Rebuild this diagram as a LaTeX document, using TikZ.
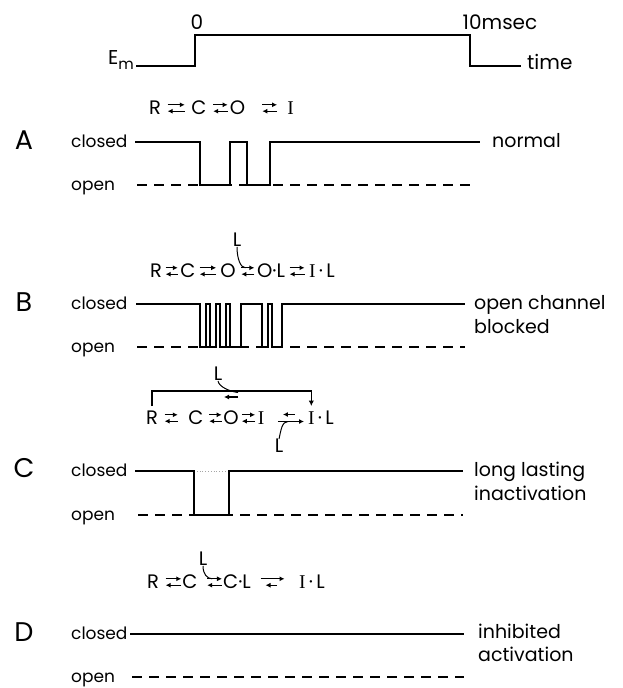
\documentclass[tikz,border=0pt]{standalone}
\usepackage{fontspec}
\setmainfont{Poppins}
\newfontfamily\serifI{Liberation Serif}
\usetikzlibrary{arrows.meta}
\newcommand{\Ig}{{\serifI I}}
\newcommand{\eqarr}[4]{%
  \draw[eqa, shorten <=#3, shorten >=#4] ([yshift=3.2pt]#1.east) -- ([yshift=3.2pt]#2.west);
  \draw[eqa, shorten <=#4, shorten >=#3] ([yshift=-3.2pt]#2.west) -- ([yshift=-3.2pt]#1.east);}
\begin{document}
\begin{tikzpicture}[x=1pt,y=-1pt,
  trace/.style={line width=1.4pt, line join=miter},
  burst/.style={line width=1.1pt, line join=miter},
  openline/.style={line width=1.3pt, dash pattern=on 10pt off 7pt},
  sp/.style={font=\fontsize{19.5}{19.5}\selectfont, inner sep=0pt},
  tl/.style={font=\fontsize{20}{20}\selectfont, inner sep=0pt},
  lbl/.style={font=\fontsize{17}{17}\selectfont, inner sep=0pt, anchor=base west},
  rlab/.style={font=\fontsize{19}{19}\selectfont, inner sep=0pt, anchor=base west},
  big/.style={font=\fontsize{27}{27}\selectfont, inner sep=0pt},
  eqa/.style={line width=1.1pt, -{Latex[length=5pt,width=5pt]}},
  lig/.style={line width=1pt},
  brk/.style={line width=1.1pt}]
\useasboundingbox (0,0) rectangle (622,688);

% ---------- top voltage step ----------
\node[tl] (zero) at (197,22) {0};
\node[tl] (ten) at (500,22) {10msec};
\node[tl, anchor=east] (Em) at (134,60) {E\raisebox{-5pt}{\fontsize{15}{15}\selectfont m}};
\node[tl, anchor=west] (time) at (527,62) {time};
\draw[trace] (136,66) -- (195,66) -- (195,35) -- (470,35) -- (470,66) -- (521,66);

% ---------- A ----------
\node[big] (A) at (24,140) {A};
\node[lbl] (Acl) at (71,147) {closed};
\node[lbl] (Aop) at (71,190) {open};
\node[rlab] (Ar) at (492,147) {normal};
\node[sp] (aR) at (155,108) {R};
\node[sp] (aC) at (199,108) {C};
\node[sp] (aO) at (237.5,108) {O};
\node[sp] (aI) at (290.5,108) {\Ig};
\eqarr{aR}{aC}{6.5pt}{6.5pt}
\eqarr{aC}{aO}{6.5pt}{2pt}
\eqarr{aO}{aI}{17pt}{10pt}
\draw[openline] (137,185) -- (470,185);
\draw[trace] (135,142) -- (200,142) -- (200,185) -- (230,185) -- (230,142) -- (247,142)
  -- (247,185) -- (270,185) -- (270,142) -- (480,142);

% ---------- B ----------
\node[big] (B) at (24,302) {B};
\node[lbl] (Bcl) at (71,309) {closed};
\node[lbl] (Bop) at (71,352) {open};
\node[rlab] (Br1) at (474,309) {open channel};
\node[rlab] (Br2) at (474,333) {blocked};
\node[sp] (bR) at (156,271) {R};
\node[sp] (bC) at (188,271) {C};
\node[sp] (bO) at (228,271) {O};
\node[sp] (bOL) at (271,271) {O·L};
\node[sp] (bIL) at (322,271) {\Ig\,·\,L};
\node[sp] (bL) at (237,240) {L};
\eqarr{bR}{bC}{3.5pt}{2.5pt}
\eqarr{bC}{bO}{4pt}{4pt}
\eqarr{bO}{bOL}{5.5pt}{2.5pt}
\eqarr{bOL}{bIL}{4.5pt}{4.5pt}
\draw[lig] (bL.south) .. controls +(0,11) and +(-5,0) .. ([xshift=9.5pt,yshift=3.2pt]bO.east);
\draw[openline] (137,347) -- (465,347);
\draw[burst] (136,304) -- (200,304) -- (200,347) -- (206,347) -- (206,304) -- (210,304)
  -- (210,347) -- (216,347) -- (216,304) -- (220,304) -- (220,347) -- (226,347)
  -- (226,304) -- (230,304) -- (230,347) -- (241,347) -- (241,304) -- (262,304)
  -- (262,347) -- (268,347) -- (268,304) -- (272,304) -- (272,347) -- (282,347)
  -- (282,304) -- (465,304);

% ---------- C ----------
\node[big] (Cl) at (24,468) {C};
\node[lbl] (Ccl) at (71,476) {closed};
\node[lbl] (Cop) at (71,520) {open};
\node[rlab] (Cr1) at (474,476) {long lasting};
\node[rlab] (Cr2) at (474,500) {inactivation};
\node[sp] (cR) at (152,418) {R};
\node[sp] (cC) at (196,418) {C};
\node[sp] (cO) at (231,418) {O};
\node[sp] (cI) at (261,418) {\Ig};
\node[sp] (cIL) at (321,418) {\Ig\,·\,L};
\node[sp] (cL1) at (218,374) {L};
\node[sp] (cL2) at (279,446) {L};
\eqarr{cR}{cC}{6.5pt}{10.5pt}
\eqarr{cC}{cO}{5.5pt}{1.5pt}
\eqarr{cO}{cI}{3pt}{2.5pt}
\draw[eqa, shorten <=13.5pt, shorten >=18.5pt] ([yshift=3.5pt]cIL.west) -- ([yshift=3.5pt]cI.east);
\draw[eqa, shorten <=13.5pt, shorten >=4pt] ([yshift=-3.5pt]cI.east) -- ([yshift=-3.5pt]cIL.west);
\draw[lig] (cL2.north) .. controls +(2,-9) and +(-6,0) .. ([xshift=23.5pt,yshift=-3.5pt]cI.east);
\draw[brk, -{Latex[length=5.5pt,width=5.5pt]}] ([yshift=5pt]cR.north) -- ++(0,-15)
  -| ([xshift=3.3pt,yshift=5pt]cIL.north west);
\coordinate (cb1) at (238,397);
\coordinate (cb2) at (224,397);
\draw[eqa] (cb1) -- (cb2);
\draw[lig] (cL1.south) .. controls +(1,6) and +(-8,-1) .. (238,392.5);
\draw[openline] (138,515) -- (463,515);
\draw[gray!70, line width=0.8pt, dotted] (194,471) -- (229,471);
\draw[trace] (135,471) -- (194,471) -- (194,515) -- (229,515) -- (229,471) -- (463,471);

% ---------- D ----------
\node[big] (D) at (24,632) {D};
\node[lbl] (Dcl) at (71,639) {closed};
\node[lbl] (Dop) at (71,682) {open};
\node[rlab] (Dr1) at (478,638) {inhibited};
\node[rlab] (Dr2) at (478,661) {activation};
\node[sp] (dR) at (153,582) {R};
\node[sp] (dC) at (190,582) {C};
\node[sp] (dCL) at (237,582) {C·L};
\node[sp] (dIL) at (312,582) {\Ig\,·\,L};
\node[sp] (dL) at (203,559) {L};
\eqarr{dR}{dC}{6.5pt}{1pt}
\eqarr{dC}{dCL}{9.5pt}{1pt}
\draw[eqa, shorten <=9.5pt, shorten >=14.5pt] ([yshift=3.2pt]dCL.east) -- ([yshift=3.2pt]dIL.west);
\draw[eqa, shorten <=22pt, shorten >=14.5pt] ([yshift=-3.2pt]dIL.west) -- ([yshift=-3.2pt]dCL.east);
\draw[lig] (dL.south) .. controls +(0,8) and +(-5,0) .. ([xshift=14.5pt,yshift=3.2pt]dC.east);
\draw[trace] (130,634) -- (464,634);
\draw[openline] (132,677) -- (464,677);
\end{tikzpicture}
\end{document}
